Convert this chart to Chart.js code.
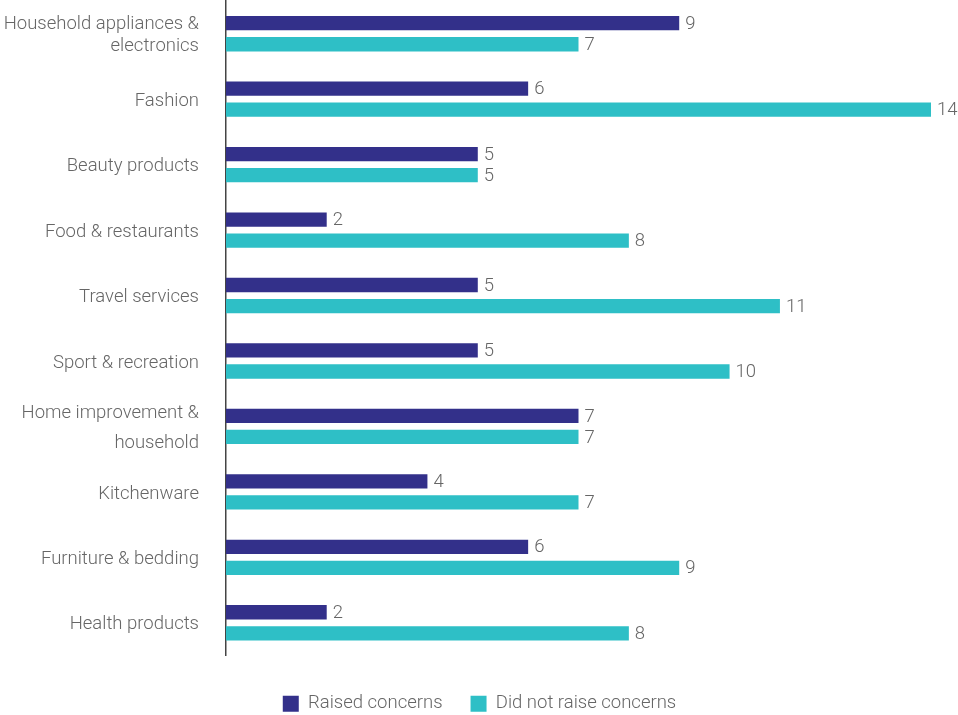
<!DOCTYPE html>
<html><head><meta charset="utf-8">
<script src="https://cdn.jsdelivr.net/npm/chart.js@4"></script>
<style>html,body{margin:0;padding:0;background:#fff}#wrap{width:958px;height:715px}</style>
</head><body><div id="wrap"><canvas id="c"></canvas></div>
<script>
const categories = [
  ["Household appliances &", "electronics"],
  "Fashion",
  "Beauty products",
  "Food & restaurants",
  "Travel services",
  "Sport & recreation",
  ["Home improvement &", "household"],
  "Kitchenware",
  "Furniture & bedding",
  "Health products"
];
const raisedConcerns = [9, 6, 5, 2, 5, 5, 7, 4, 6, 2];
const didNotRaise = [7, 14, 5, 8, 11, 10, 7, 7, 9, 8];
const seriesNames = ["Raised concerns", "Did not raise concerns"];

const FONT = "Roboto, 'Noto Sans', sans-serif";

const valueLabels = {
  id: 'valueLabels',
  afterDatasetsDraw(chart) {
    const ctx = chart.ctx;
    ctx.save();
    ctx.font = "300 18.5px " + FONT;
    ctx.fillStyle = '#666666';
    ctx.textAlign = 'left';
    ctx.textBaseline = 'middle';
    chart.data.datasets.forEach((ds, di) => {
      chart.getDatasetMeta(di).data.forEach((el, i) => {
        ctx.fillText(String(ds.data[i]), el.x + 6, el.y + 1);
      });
    });
    ctx.restore();
  }
};

const legendShift = {
  id: 'legendShift',
  afterLayout(chart) {
    const lg = chart.legend;
    if (!lg) return;
    lg.left += 14; lg.right += 14;
    lg.top += 11; lg.bottom += 11;
  }
};

new Chart(document.getElementById('c'), {
  type: 'bar',
  data: {
    labels: categories,
    datasets: [
      { label: seriesNames[0], data: raisedConcerns, backgroundColor: '#33308A', barPercentage: 0.68, categoryPercentage: 0.643 },
      { label: seriesNames[1], data: didNotRaise, backgroundColor: '#2EBFC6', barPercentage: 0.68, categoryPercentage: 0.643 }
    ]
  },
  options: {
    indexAxis: 'y',
    responsive: true,
    maintainAspectRatio: false,
    animation: false,
    layout: { padding: { left: 0, right: 27, top: 1, bottom: 3 } },
    scales: {
      x: { display: false, min: 0, max: 14 },
      y: {
        afterFit(scale) { scale.width = 226; scale.paddingTop = 0; scale.paddingBottom = 0; },
        grid: { display: false, drawTicks: false },
        border: { display: true, color: '#444444', width: 1.5 },
        ticks: {
          padding: 27,
          labelOffset: 2,
          color: '#666666',
          font: (c) => ({ family: FONT, size: 18.5, weight: 300, lineHeight: c.index === 6 ? 1.62 : 1.19 })
        }
      }
    },
    plugins: {
      legend: {
        position: 'bottom',
        labels: {
          boxWidth: 16, boxHeight: 16, padding: 28,
          color: '#666666',
          font: { family: FONT, size: 18.5, weight: 300 }
        }
      },
      tooltip: { enabled: false }
    }
  },
  plugins: [valueLabels, legendShift]
});
</script></body></html>
